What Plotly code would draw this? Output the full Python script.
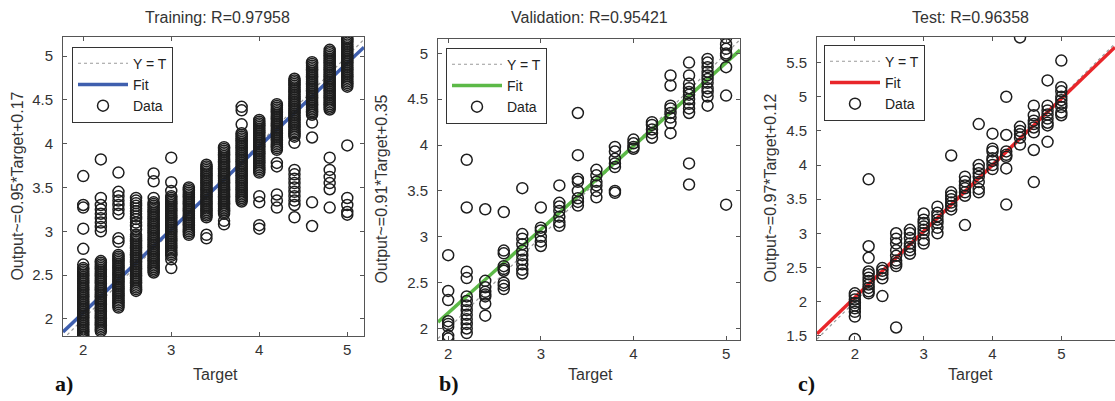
import plotly.graph_objects as go

# ---------------- data ----------------
targets = [2.0, 2.2, 2.4, 2.6, 2.8, 3.0, 3.2, 3.4, 3.6, 3.8, 4.0, 4.2, 4.4, 4.6, 4.8, 5.0]

train_outputs = [
    [1.78, 1.80, 1.82, 1.84, 1.86, 1.88, 1.90, 1.92, 1.94, 1.96, 1.98, 2.00, 2.02, 2.04, 2.06, 2.08, 2.10, 2.12, 2.14, 2.16,
     2.18, 2.20, 2.22, 2.24, 2.26, 2.28, 2.30, 2.32, 2.34, 2.36, 2.38, 2.40, 2.42, 2.44, 2.46, 2.48, 2.50, 2.52, 2.54, 2.56,
     2.58, 2.62, 2.80, 3.03, 3.27, 3.30, 3.63],
    [1.86, 1.88, 1.90, 1.92, 1.94, 1.96, 1.98, 2.00, 2.02, 2.04, 2.06, 2.08, 2.10, 2.12, 2.14, 2.16, 2.18, 2.20, 2.22, 2.24,
     2.26, 2.28, 2.30, 2.32, 2.34, 2.36, 2.38, 2.40, 2.42, 2.44, 2.46, 2.48, 2.50, 2.52, 2.54, 2.56, 2.58, 2.60, 2.62, 2.64,
     2.66, 3.00, 3.05, 3.10, 3.15, 3.20, 3.25, 3.30, 3.38, 3.82],
    [2.13, 2.15, 2.17, 2.19, 2.21, 2.23, 2.25, 2.27, 2.29, 2.31, 2.33, 2.35, 2.37, 2.39, 2.41, 2.43, 2.45, 2.47, 2.49, 2.51,
     2.53, 2.55, 2.57, 2.59, 2.61, 2.63, 2.65, 2.67, 2.69, 2.71, 2.73, 2.88, 2.92, 3.20, 3.25, 3.30, 3.35, 3.40, 3.45, 3.67],
    [2.32, 2.34, 2.36, 2.38, 2.40, 2.42, 2.44, 2.46, 2.48, 2.50, 2.52, 2.54, 2.56, 2.58, 2.60, 2.62, 2.64, 2.66, 2.68, 2.70,
     2.72, 2.74, 2.76, 2.78, 2.80, 2.82, 2.84, 2.86, 2.88, 2.90, 2.92, 2.94, 2.96, 3.02, 3.06, 3.10, 3.14, 3.17, 3.20, 3.23,
     3.26, 3.29, 3.32, 3.35, 3.38],
    [2.53, 2.55, 2.57, 2.59, 2.61, 2.63, 2.65, 2.67, 2.69, 2.71, 2.73, 2.75, 2.77, 2.79, 2.81, 2.83, 2.85, 2.87, 2.89, 2.91,
     2.93, 2.95, 2.97, 2.99, 3.01, 3.03, 3.05, 3.07, 3.09, 3.11, 3.13, 3.15, 3.17, 3.19, 3.21, 3.23, 3.25, 3.27, 3.29, 3.31,
     3.33, 3.38, 3.57, 3.66],
    [2.58, 2.68, 2.72, 2.74, 2.76, 2.78, 2.80, 2.82, 2.84, 2.86, 2.88, 2.90, 2.92, 2.94, 2.96, 2.98, 3.00, 3.02, 3.04, 3.06,
     3.08, 3.10, 3.12, 3.14, 3.16, 3.18, 3.20, 3.22, 3.24, 3.26, 3.28, 3.30, 3.32, 3.34, 3.36, 3.38, 3.40, 3.46, 3.56, 3.84],
    [2.96, 2.98, 3.00, 3.02, 3.04, 3.06, 3.08, 3.10, 3.12, 3.14, 3.16, 3.18, 3.20, 3.22, 3.24, 3.26, 3.28, 3.30, 3.32, 3.34,
     3.36, 3.38, 3.40, 3.42, 3.44, 3.46, 3.48, 3.50],
    [2.92, 2.96, 3.16, 3.18, 3.20, 3.22, 3.24, 3.26, 3.28, 3.30, 3.32, 3.34, 3.36, 3.38, 3.40, 3.42, 3.44, 3.46, 3.48, 3.50,
     3.52, 3.54, 3.56, 3.58, 3.60, 3.62, 3.64, 3.66, 3.68, 3.70, 3.72, 3.74, 3.76],
    [3.08, 3.12, 3.20, 3.22, 3.24, 3.26, 3.28, 3.30, 3.32, 3.34, 3.36, 3.38, 3.40, 3.42, 3.44, 3.46, 3.48, 3.50, 3.52, 3.54,
     3.56, 3.58, 3.60, 3.62, 3.64, 3.66, 3.68, 3.70, 3.72, 3.74, 3.76, 3.78, 3.80, 3.82, 3.84, 3.86, 3.88, 3.90, 3.92, 3.94,
     3.96],
    [3.34, 3.36, 3.38, 3.40, 3.42, 3.44, 3.46, 3.48, 3.50, 3.52, 3.54, 3.56, 3.58, 3.60, 3.62, 3.64, 3.66, 3.68, 3.70, 3.72,
     3.74, 3.76, 3.78, 3.80, 3.82, 3.84, 3.86, 3.88, 3.90, 3.92, 3.94, 3.96, 3.98, 4.00, 4.02, 4.04, 4.06, 4.08, 4.10, 4.12,
     4.22, 4.38, 4.42],
    [3.03, 3.07, 3.33, 3.40, 3.67, 3.69, 3.71, 3.73, 3.75, 3.77, 3.79, 3.81, 3.83, 3.85, 3.87, 3.89, 3.91, 3.93, 3.95, 3.97,
     3.99, 4.01, 4.03, 4.05, 4.07, 4.09, 4.11, 4.13, 4.15, 4.17, 4.19, 4.21, 4.23, 4.25, 4.27],
    [3.27, 3.35, 3.42, 3.74, 3.78, 3.93, 3.95, 3.97, 3.99, 4.01, 4.03, 4.05, 4.07, 4.09, 4.11, 4.13, 4.15, 4.17, 4.19, 4.21,
     4.23, 4.25, 4.27, 4.29, 4.31, 4.33, 4.35, 4.37, 4.39, 4.41, 4.43, 4.45],
    [3.16, 3.30, 3.35, 3.40, 3.45, 3.50, 3.55, 3.60, 3.65, 3.70, 4.01, 4.08, 4.10, 4.12, 4.14, 4.16, 4.18, 4.20, 4.22, 4.24,
     4.26, 4.28, 4.30, 4.32, 4.34, 4.36, 4.38, 4.40, 4.42, 4.44, 4.46, 4.48, 4.50, 4.52, 4.54, 4.56, 4.58, 4.60, 4.62, 4.64,
     4.66, 4.68, 4.70, 4.72, 4.74],
    [3.06, 3.33, 4.07, 4.24, 4.33, 4.35, 4.37, 4.39, 4.41, 4.43, 4.45, 4.47, 4.49, 4.51, 4.53, 4.55, 4.57, 4.59, 4.61, 4.63,
     4.65, 4.67, 4.69, 4.71, 4.73, 4.75, 4.77, 4.79, 4.81, 4.83, 4.85, 4.87, 4.89, 4.91, 4.93],
    [3.27, 3.48, 3.55, 3.62, 3.70, 3.84, 4.39, 4.41, 4.43, 4.45, 4.47, 4.49, 4.51, 4.53, 4.55, 4.57, 4.59, 4.61, 4.63, 4.65,
     4.67, 4.69, 4.71, 4.73, 4.75, 4.77, 4.79, 4.81, 4.83, 4.85, 4.87, 4.89, 4.91, 4.93, 4.95, 4.97, 4.99, 5.01, 5.03, 5.05,
     5.07],
    [3.19, 3.22, 3.30, 3.38, 3.98, 4.65, 4.67, 4.69, 4.71, 4.73, 4.75, 4.77, 4.79, 4.81, 4.83, 4.85, 4.87, 4.89, 4.91, 4.93,
     4.95, 4.97, 4.99, 5.01, 5.03, 5.05, 5.07, 5.09, 5.11, 5.13, 5.15, 5.17, 5.19, 5.20],
]

val_outputs = [
    [1.89, 1.92, 2.02, 2.05, 2.08, 2.31, 2.41, 2.80],
    [1.95, 2.00, 2.05, 2.10, 2.15, 2.20, 2.25, 2.30, 2.35, 2.55, 2.62, 3.32, 3.84],
    [2.14, 2.27, 2.35, 2.37, 2.40, 2.45, 2.52, 3.30],
    [2.43, 2.47, 2.50, 2.63, 2.65, 2.68, 2.82, 2.85, 3.27],
    [2.60, 2.64, 2.70, 2.75, 2.80, 2.85, 2.92, 2.98, 3.03, 3.53],
    [2.90, 2.95, 3.00, 3.07, 3.10, 3.32],
    [3.12, 3.16, 3.22, 3.28, 3.33, 3.37, 3.56],
    [3.34, 3.38, 3.42, 3.50, 3.60, 3.63, 3.89, 4.35],
    [3.43, 3.50, 3.56, 3.60, 3.67, 3.73],
    [3.48, 3.50, 3.76, 3.80, 3.85, 3.93, 3.98],
    [3.96, 3.98, 4.02, 4.06],
    [4.08, 4.13, 4.17, 4.22, 4.25],
    [4.13, 4.24, 4.30, 4.35, 4.40, 4.43, 4.65, 4.76],
    [3.57, 3.80, 4.35, 4.40, 4.45, 4.50, 4.55, 4.58, 4.62, 4.67, 4.76, 4.90],
    [4.43, 4.53, 4.58, 4.62, 4.68, 4.72, 4.76, 4.80, 4.85, 4.90, 4.94],
    [3.35, 4.54, 4.85, 4.98, 5.00, 5.05, 5.10, 5.17],
]

test_outputs = [
    [1.45, 1.78, 1.85, 1.90, 1.94, 1.98, 2.03, 2.08, 2.12],
    [2.12, 2.15, 2.20, 2.25, 2.30, 2.35, 2.40, 2.44, 2.64, 2.81, 3.79],
    [2.08, 2.34, 2.40, 2.45, 2.49],
    [1.62, 2.52, 2.56, 2.60, 2.67, 2.75, 2.85, 2.92, 3.00],
    [2.70, 2.75, 2.80, 2.85, 2.93, 3.00, 3.05],
    [2.85, 2.90, 3.00, 3.05, 3.10, 3.15, 3.20, 3.29],
    [3.00, 3.08, 3.15, 3.20, 3.25, 3.30, 3.39],
    [3.35, 3.40, 3.45, 3.50, 3.55, 3.60, 4.14],
    [3.12, 3.55, 3.60, 3.66, 3.70, 3.76, 3.83],
    [3.60, 3.65, 3.75, 3.83, 3.88, 3.94, 4.00, 4.60],
    [3.94, 4.00, 4.06, 4.10, 4.20, 4.24, 4.46],
    [3.42, 3.95, 4.12, 4.15, 4.20, 4.44, 5.00],
    [4.30, 4.40, 4.45, 4.50, 4.56, 5.87],
    [3.75, 4.22, 4.48, 4.55, 4.60, 4.65, 4.73, 4.87],
    [4.34, 4.58, 4.62, 4.68, 4.74, 4.80, 4.87, 5.24],
    [4.73, 4.77, 4.85, 4.90, 4.95, 5.00, 5.08, 5.14, 5.53],
]

panel_titles = ["Training: R=0.97958", "Validation: R=0.95421", "Test: R=0.96358"]
fit_slopes = [0.95, 0.91, 0.97]
fit_intercepts = [0.17, 0.35, 0.12]
ylabels = ["Output~=0.95*Target+0.17", "Output~=0.91*Target+0.35", "Output~=0.97*Target+0.12"]
panel_letters = ["a)", "b)", "c)"]
fit_colors = ["#3f5fae", "#5cb947", "#e8262a"]

x_ticks = [2, 3, 4, 5]
y_ticks_ab = [2, 2.5, 3, 3.5, 4, 4.5, 5]
y_ticks_c = [1.5, 2, 2.5, 3, 3.5, 4, 4.5, 5, 5.5]

# ---------------- layout geometry (pixels) ----------------
W, H = 1115, 401
FONT = "Liberation Sans, Arial, sans-serif"
TXT = "#333333"

panels = [
    dict(outputs=train_outputs, xr=[1.77, 5.19], yr=[1.80, 5.22], px=(63, 364), py=(37, 339),
         yticks=y_ticks_ab, title_x=217, xlab_x=215, ylab_x=18, letter_x=64, legend=(72, 47), ymirror="ticks"),
    dict(outputs=val_outputs, xr=[1.89, 5.15], yr=[1.87, 5.16], px=(438, 740), py=(39, 343),
         yticks=y_ticks_ab, title_x=589, xlab_x=590, ylab_x=382, letter_x=449, legend=(446, 48), ymirror="ticks"),
    dict(outputs=test_outputs, xr=[1.45, 5.78], yr=[1.43, 5.88], px=(817, 1115), py=(37, 343),
         yticks=y_ticks_c, title_x=970, xlab_x=970, ylab_x=771, letter_x=806, legend=(824, 45), ymirror=False),
]

fig = go.Figure()
annotations = []
layout_axes = {}

for i, p in enumerate(panels):
    n = "" if i == 0 else str(i + 1)
    xa, ya = "x" + n, "y" + n
    leg = "legend" + n
    xs = [t for t, outs in zip(targets, p["outputs"]) for _ in outs]
    ys = [v for outs in p["outputs"] for v in outs]
    line_x = p["xr"]
    fig.add_trace(go.Scatter(x=line_x, y=line_x, mode="lines", name="Y = T",
                             line=dict(color="#9a9a9a", width=1.2, dash="dot"),
                             xaxis=xa, yaxis=ya, legend=leg))
    fig.add_trace(go.Scatter(x=line_x, y=[fit_slopes[i] * v + fit_intercepts[i] for v in line_x],
                             mode="lines", name="Fit",
                             line=dict(color=fit_colors[i], width=3.5),
                             xaxis=xa, yaxis=ya, legend=leg))
    fig.add_trace(go.Scatter(x=xs, y=ys, mode="markers", name="Data",
                             marker=dict(symbol="circle-open", size=11, color="#1e1e1e",
                                         line=dict(width=1.5, color="#1e1e1e")),
                             xaxis=xa, yaxis=ya, legend=leg))

    common = dict(showgrid=False, zeroline=False, showline=True, linecolor="#555555", linewidth=1,
                  ticks="inside", ticklen=4, tickcolor="#555555",
                  tickfont=dict(family=FONT, size=15, color=TXT))
    layout_axes["xaxis" + n] = dict(common, domain=[p["px"][0] / W, p["px"][1] / W], range=p["xr"],
                                    anchor=ya, tickvals=x_ticks, mirror="ticks", fixedrange=True)
    layout_axes["yaxis" + n] = dict(common, domain=[1 - p["py"][1] / H, 1 - p["py"][0] / H], range=p["yr"],
                                    anchor=xa, tickvals=p["yticks"], mirror=p["ymirror"],
                                    ticklabelstandoff=6, fixedrange=True)
    layout_axes["legend" + n] = dict(x=p["legend"][0] / W, y=1 - p["legend"][1] / H,
                                     xanchor="left", yanchor="top", bgcolor="white",
                                     bordercolor="#333333", borderwidth=1, itemwidth=50,
                                     font=dict(family=FONT, size=14, color="#222222"),
                                     tracegroupgap=0)
    cy = 1 - ((p["py"][0] + p["py"][1]) / 2) / H
    base = dict(xref="paper", yref="paper", showarrow=False, xanchor="center", yanchor="middle")
    annotations += [
        dict(base, text=panel_titles[i], x=p["title_x"] / W, y=1 - 18 / H,
             font=dict(family=FONT, size=16, color=TXT)),
        dict(base, text="Target", x=p["xlab_x"] / W, y=1 - 377 / H,
             font=dict(family=FONT, size=16, color=TXT)),
        dict(base, text=ylabels[i], x=p["ylab_x"] / W, y=cy, textangle=-90,
             font=dict(family=FONT, size=16, color=TXT)),
        dict(base, text="<b>" + panel_letters[i] + "</b>", x=p["letter_x"] / W, y=1 - 386 / H,
             font=dict(family="Liberation Serif, Times New Roman, serif", size=22, color="#111111")),
    ]

fig.update_layout(width=W, height=H, margin=dict(l=0, r=0, t=0, b=0),
                  paper_bgcolor="white", plot_bgcolor="white", hovermode=False,
                  showlegend=True, annotations=annotations, **layout_axes)

fig.write_html("out.html", config={"displayModeBar": False, "staticPlot": False},
               post_script="document.body.style.margin='0px';document.body.style.overflow='hidden';")
